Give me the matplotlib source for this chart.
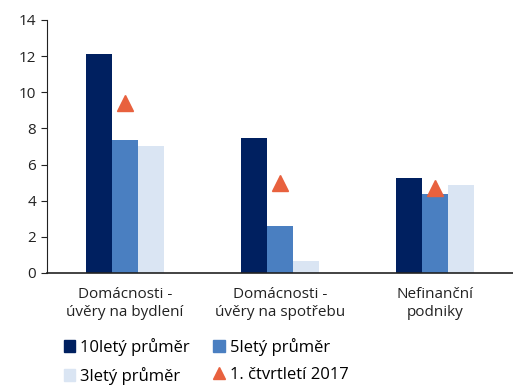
import numpy as np
import matplotlib.pyplot as plt
from matplotlib.lines import Line2D
from matplotlib.patches import Patch

plt.rcParams['font.family'] = ['Open Sans', 'DejaVu Sans']

categories = ['Domácnosti -\núvěry na bydlení', 'Domácnosti -\núvěry na spotřebu', 'Nefinanční\npodniky']
avg10 = [12.1, 7.45, 5.25]
avg5 = [7.35, 2.6, 4.35]
avg3 = [7.05, 0.65, 4.85]
q1_2017 = [9.4, 5.0, 4.7]

c10 = '#002060'
c5 = '#4a7fc1'
c3 = '#dae5f3'
ctri = '#e8613e'

fig = plt.figure(figsize=(5.13, 3.9), dpi=100)
ax = fig.add_axes([0.092, 0.30, 0.908, 0.649])

x = np.arange(len(categories))
w = 0.167
ax.bar(x - w, avg10, w, color=c10)
ax.bar(x, avg5, w, color=c5)
ax.bar(x + w, avg3, w, color=c3)
ax.plot(x, q1_2017, linestyle='none', marker='^', markersize=12, color=ctri)

ax.set_xlim(-0.5, 2.5)
ax.set_ylim(0, 14)
ax.set_yticks(range(0, 15, 2))
ax.set_xticks(x)
ax.set_xticklabels(categories, fontsize=11, color='#222222', linespacing=1.3)
ax.tick_params(axis='x', length=0, pad=10)
ax.tick_params(axis='y', labelsize=11, length=4, colors='#222222', pad=4)
for s in ['top', 'right']:
    ax.spines[s].set_visible(False)
for s in ['left', 'bottom']:
    ax.spines[s].set_color('#222222')
ax.spines['bottom'].set_linewidth(1.2)

# legend fills column by column, so order handles to read row by row
handles = [
    Patch(color=c10, label='10letý průměr'),
    Patch(color=c3, label='3letý průměr'),
    Patch(color=c5, label='5letý průměr'),
    Line2D([], [], linestyle='none', marker='^', markersize=8, color=ctri, label='1. čtvrtletí 2017'),
]
fig.legend(handles=handles, ncol=2, loc='lower left', bbox_to_anchor=(0.095, -0.025),
           frameon=False, fontsize=12, handlelength=0.7, handleheight=0.7,
           handletextpad=0.3, columnspacing=1.4, labelspacing=0.65)

fig.savefig('out.png', dpi=100)
